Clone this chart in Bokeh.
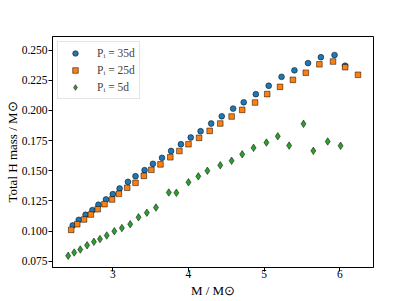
from bokeh.plotting import figure
from bokeh.models import Range1d, FixedTicker, PrintfTickFormatter, Legend, LegendItem
from bokeh.embed import file_html
from bokeh.resources import INLINE

# Data
m_35 = [2.47, 2.55, 2.64, 2.73, 2.81, 2.91, 3.00, 3.09, 3.20, 3.30, 3.42, 3.53, 3.65, 3.77, 3.90,
        4.03, 4.16, 4.30, 4.44, 4.59, 4.73, 4.89, 5.06, 5.23, 5.40, 5.58, 5.75, 5.93, 6.07]
h_35 = [0.1046, 0.1093, 0.1135, 0.1173, 0.1218, 0.1262, 0.1306, 0.1353, 0.1408, 0.1455, 0.1505,
        0.1558, 0.1607, 0.1664, 0.1720, 0.1776, 0.1828, 0.1892, 0.1952, 0.2016, 0.2068, 0.2135,
        0.2205, 0.2279, 0.2333, 0.2393, 0.2442, 0.2460, 0.2371]

m_25 = [2.45, 2.53, 2.62, 2.71, 2.80, 2.89, 2.99, 3.08, 3.19, 3.30, 3.41, 3.51, 3.63, 3.76, 3.88,
        4.00, 4.14, 4.28, 4.42, 4.57, 4.71, 4.88, 5.04, 5.21, 5.38, 5.55, 5.73, 5.91, 6.07, 6.24]
h_25 = [0.1010, 0.1057, 0.1096, 0.1137, 0.1181, 0.1223, 0.1262, 0.1309, 0.1359, 0.1400, 0.1458,
        0.1508, 0.1553, 0.1612, 0.1664, 0.1720, 0.1773, 0.1831, 0.1892, 0.1950, 0.2005, 0.2066,
        0.2136, 0.2196, 0.2254, 0.2313, 0.2383, 0.2406, 0.2359, 0.2296]

m_5 = [2.41, 2.49, 2.57, 2.66, 2.75, 2.83, 2.92, 3.02, 3.12, 3.23, 3.34, 3.45, 3.57, 3.74, 3.84,
       4.00, 4.13, 4.25, 4.42, 4.57, 4.71, 4.86, 5.03, 5.18, 5.33, 5.52, 5.65, 5.84, 6.01]
h_5 = [0.0795, 0.0822, 0.0847, 0.0882, 0.0911, 0.0934, 0.0963, 0.0999, 0.1025, 0.1057, 0.1114,
       0.1152, 0.1195, 0.1320, 0.1317, 0.1404, 0.1454, 0.1500, 0.1546, 0.1583, 0.1637, 0.1690,
       0.1734, 0.1786, 0.1709, 0.1889, 0.1665, 0.1743, 0.1707]

labels = ["Pᵢ = 35d", "Pᵢ = 25d", "Pᵢ = 5d"]
x_title = "M / M⊙"
y_title = "Total H mass / M⊙"
x_ticks = [3, 4, 5, 6]
y_ticks = [0.075, 0.100, 0.125, 0.150, 0.175, 0.200, 0.225, 0.250]
x_lim = (2.203, 6.445)
y_lim = (0.06977, 0.26136)

FONT = "Liberation Serif"

p = figure(width=415, height=301, output_backend="svg", toolbar_location=None,
           x_range=Range1d(*x_lim), y_range=Range1d(*y_lim),
           min_border_left=52, min_border_right=42, min_border_top=36, min_border_bottom=34)
p.background_fill_color = "white"
p.border_fill_color = "white"
p.outline_line_color = "black"
p.outline_line_width = 1
p.xgrid.grid_line_color = None
p.ygrid.grid_line_color = None

r1 = p.scatter(m_35, h_35, marker="circle", size=5.8, fill_color="#1f77b4",
               line_color="black", line_width=0.5)
r2 = p.scatter(m_25, h_25, marker="square", size=5.6, fill_color="#ff7f0e",
               line_color="black", line_width=0.5)
r3 = p.scatter(m_5, h_5, marker="diamond", size=7.5, fill_color="#2ca02c",
               line_color="black", line_width=0.5)

for ax in (p.xaxis[0], p.yaxis[0]):
    ax.major_tick_in = 0
    ax.major_tick_out = 4
    ax.minor_tick_line_color = None
    ax.axis_line_color = "black"
    ax.major_tick_line_color = "black"
    ax.major_label_text_font = FONT
    ax.major_label_text_font_size = "11.5px"
    ax.major_label_text_color = "black"
    ax.axis_label_text_font = FONT
    ax.axis_label_text_font_size = "13px"
    ax.axis_label_text_font_style = "normal"
    ax.axis_label_text_color = "black"

p.xaxis.ticker = FixedTicker(ticks=x_ticks)
p.yaxis.ticker = FixedTicker(ticks=y_ticks)
p.yaxis.formatter = PrintfTickFormatter(format="%.3f")
p.xaxis.axis_label = x_title
p.yaxis.axis_label = y_title
p.xaxis.major_label_standoff = -2
p.xaxis.axis_label_standoff = 2
p.yaxis.major_label_standoff = 1
p.yaxis.axis_label_standoff = -1

legend = Legend(items=[LegendItem(label=labels[0], renderers=[r1]),
                       LegendItem(label=labels[1], renderers=[r2]),
                       LegendItem(label=labels[2], renderers=[r3])],
                location="top_left", margin=5, padding=4, spacing=3,
                glyph_width=26, glyph_height=14, label_height=14, label_standoff=9,
                label_text_font=FONT, label_text_font_size="11.5px",
                border_line_color="#cccccc", background_fill_alpha=0.8)
p.add_layout(legend)

open("out.html", "w").write(file_html(p, INLINE))
